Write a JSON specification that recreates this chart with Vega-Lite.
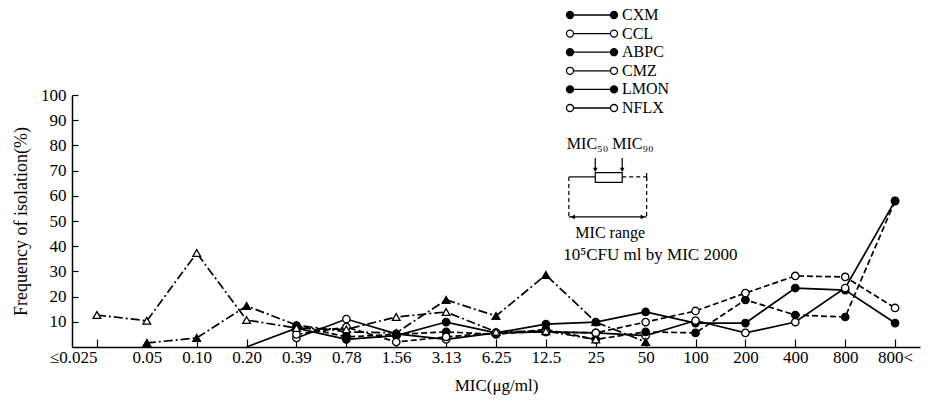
{
  "$schema": "https://vega.github.io/schema/vega-lite/v6.json",
  "autosize": {"type": "none"},
  "width": 848,
  "height": 252,
  "padding": {"left": 72, "top": 95, "right": 9, "bottom": 53},
  "background": "white",
  "config": {
    "view": {"stroke": null},
    "font": "Liberation Serif",
    "axis": {"domainColor": "black", "tickColor": "black", "labelColor": "black", "titleColor": "black", "grid": false, "labelFont": "Liberation Serif", "titleFont": "Liberation Serif", "titleFontWeight": "normal", "domainWidth": 1.5, "tickWidth": 1.2},
    "axisY": {"labelOverlap": false, "labelBound": false, "labelFlush": false},
    "axisQuantitative": {"labelOverlap": false}
  },
  "datasets": {
    "mic": [
      {"mic": "0.20", "drug": "CXM", "pct": 0},
      {"mic": "0.39", "drug": "CXM", "pct": 7.5},
      {"mic": "0.78", "drug": "CXM", "pct": 3},
      {"mic": "1.56", "drug": "CXM", "pct": 4.5},
      {"mic": "3.13", "drug": "CXM", "pct": 9.9},
      {"mic": "6.25", "drug": "CXM", "pct": 5.6},
      {"mic": "12.5", "drug": "CXM", "pct": 9.1},
      {"mic": "25", "drug": "CXM", "pct": 9.9},
      {"mic": "50", "drug": "CXM", "pct": 13.9},
      {"mic": "100", "drug": "CXM", "pct": 9.5},
      {"mic": "200", "drug": "CXM", "pct": 9.5},
      {"mic": "400", "drug": "CXM", "pct": 23.4},
      {"mic": "800", "drug": "CXM", "pct": 22.6},
      {"mic": "800<", "drug": "CXM", "pct": 9.5},
      {"mic": "0.39", "drug": "CCL", "pct": 3.6},
      {"mic": "0.78", "drug": "CCL", "pct": 11.1},
      {"mic": "1.56", "drug": "CCL", "pct": 5.2},
      {"mic": "3.13", "drug": "CCL", "pct": 3},
      {"mic": "6.25", "drug": "CCL", "pct": 5.6},
      {"mic": "12.5", "drug": "CCL", "pct": 6},
      {"mic": "25", "drug": "CCL", "pct": 5.6},
      {"mic": "50", "drug": "CCL", "pct": 4.5},
      {"mic": "100", "drug": "CCL", "pct": 10.5},
      {"mic": "200", "drug": "CCL", "pct": 5.6},
      {"mic": "400", "drug": "CCL", "pct": 9.9},
      {"mic": "800", "drug": "CCL", "pct": 23.4},
      {"mic": "800<", "drug": "CCL", "pct": 58},
      {"mic": "0.39", "drug": "ABPC", "pct": 8.5},
      {"mic": "0.78", "drug": "ABPC", "pct": 4},
      {"mic": "1.56", "drug": "ABPC", "pct": 5},
      {"mic": "3.13", "drug": "ABPC", "pct": 6},
      {"mic": "6.25", "drug": "ABPC", "pct": 5},
      {"mic": "12.5", "drug": "ABPC", "pct": 7},
      {"mic": "25", "drug": "ABPC", "pct": 3},
      {"mic": "50", "drug": "ABPC", "pct": 6},
      {"mic": "100", "drug": "ABPC", "pct": 5.6},
      {"mic": "200", "drug": "ABPC", "pct": 18.7},
      {"mic": "400", "drug": "ABPC", "pct": 12.7},
      {"mic": "800", "drug": "ABPC", "pct": 11.9},
      {"mic": "800<", "drug": "ABPC", "pct": 57.9},
      {"mic": "0.39", "drug": "CMZ", "pct": 5},
      {"mic": "0.78", "drug": "CMZ", "pct": 7.9},
      {"mic": "1.56", "drug": "CMZ", "pct": 2},
      {"mic": "3.13", "drug": "CMZ", "pct": 4},
      {"mic": "6.25", "drug": "CMZ", "pct": 5.6},
      {"mic": "12.5", "drug": "CMZ", "pct": 6},
      {"mic": "25", "drug": "CMZ", "pct": 5.6},
      {"mic": "50", "drug": "CMZ", "pct": 9.9},
      {"mic": "100", "drug": "CMZ", "pct": 14.3},
      {"mic": "200", "drug": "CMZ", "pct": 21.4},
      {"mic": "400", "drug": "CMZ", "pct": 28.2},
      {"mic": "800", "drug": "CMZ", "pct": 27.8},
      {"mic": "800<", "drug": "CMZ", "pct": 15.5},
      {"mic": "0.05", "drug": "LMON", "pct": 1.6},
      {"mic": "0.10", "drug": "LMON", "pct": 3.6},
      {"mic": "0.20", "drug": "LMON", "pct": 16.3},
      {"mic": "0.39", "drug": "LMON", "pct": 8.7},
      {"mic": "0.78", "drug": "LMON", "pct": 6},
      {"mic": "1.56", "drug": "LMON", "pct": 5.6},
      {"mic": "3.13", "drug": "LMON", "pct": 18.7},
      {"mic": "6.25", "drug": "LMON", "pct": 12.3},
      {"mic": "12.5", "drug": "LMON", "pct": 28.6},
      {"mic": "25", "drug": "LMON", "pct": 9.9},
      {"mic": "50", "drug": "LMON", "pct": 2},
      {"mic": "≤0.025", "drug": "NFLX", "pct": 12.7},
      {"mic": "0.05", "drug": "NFLX", "pct": 10.4},
      {"mic": "0.10", "drug": "NFLX", "pct": 37.3},
      {"mic": "0.20", "drug": "NFLX", "pct": 10.7},
      {"mic": "0.39", "drug": "NFLX", "pct": 7.5},
      {"mic": "0.78", "drug": "NFLX", "pct": 7},
      {"mic": "1.56", "drug": "NFLX", "pct": 11.9},
      {"mic": "3.13", "drug": "NFLX", "pct": 13.9},
      {"mic": "6.25", "drug": "NFLX", "pct": 6},
      {"mic": "12.5", "drug": "NFLX", "pct": 6.3},
      {"mic": "25", "drug": "NFLX", "pct": 3}
    ],
    "segments": [
      {"part": "range-left", "style": "solid", "u": 9.96, "u2": 10.49, "v": 67.5, "v2": 67.5},
      {"part": "range-right", "style": "dashed", "u": 11.03, "u2": 11.52, "v": 67.5, "v2": 67.5},
      {"part": "left-drop", "style": "dashed", "u": 9.96, "u2": 9.96, "v": 67.5, "v2": 51.6},
      {"part": "right-drop", "style": "dashed", "u": 11.52, "u2": 11.52, "v": 67.5, "v2": 51.6},
      {"part": "range-arrow", "style": "solid", "u": 9.96, "u2": 11.52, "v": 51.6, "v2": 51.6},
      {"part": "end-tick", "style": "solid", "u": 11.52, "u2": 11.52, "v": 66, "v2": 69},
      {"part": "mic50-arrow", "style": "solid", "u": 10.49, "u2": 10.49, "v": 75, "v2": 70},
      {"part": "mic90-arrow", "style": "solid", "u": 11.03, "u2": 11.03, "v": 75, "v2": 70}
    ],
    "boxes": [
      {"part": "mic-box", "u": 10.49, "u2": 11.03, "v": 65.3, "v2": 69.2}
    ],
    "heads": [
      {"part": "mic50-head", "dir": "down", "u": 10.49, "v": 70.3},
      {"part": "mic90-head", "dir": "down", "u": 11.03, "v": 70.3},
      {"part": "range-left-head", "dir": "left", "u": 10.04, "v": 51.6},
      {"part": "range-right-head", "dir": "right", "u": 11.44, "v": 51.6}
    ],
    "notes": [
      {"label": "MIC₅₀ MIC₉₀", "u": 10.79, "v": 80.6, "anchor": "center"},
      {"label": "MIC range", "u": 10.79, "v": 45.2, "anchor": "center"},
      {"label": "10⁵CFU ml by MIC 2000", "u": 9.85, "v": 36.5, "anchor": "left"}
    ]
  },
  "resolve": {"scale": {"x": "independent", "y": "independent"}, "axis": {"x": "independent", "y": "independent"}},
  "layer": [
    {
      "data": {"name": "mic"},
      "encoding": {
        "x": {"field": "mic", "type": "nominal", "sort": ["≤0.025","0.05","0.10","0.20","0.39","0.78","1.56","3.13","6.25","12.5","25","50","100","200","400","800","800<"],
          "scale": {"type": "point", "padding": 0.5, "domain": ["≤0.025","0.05","0.10","0.20","0.39","0.78","1.56","3.13","6.25","12.5","25","50","100","200","400","800","800<"]},
          "axis": {"title": "MIC(μg/ml)", "labelAngle": 0, "tickSize": -8, "labelPadding": 10, "labelFontSize": 17, "titleFontSize": 17, "titlePadding": 12, "labelOverlap": false,
            "labelAlign": {"condition": {"test": "datum.value == '≤0.025'", "value": "right"}, "value": "center"}}},
        "y": {"field": "pct", "type": "quantitative", "scale": {"domain": [0, 100], "nice": false},
          "axis": {"title": "Frequency of isolation(%)", "values": [10,20,30,40,50,60,70,80,90,100], "tickSize": -6, "labelPadding": 12, "labelFontSize": 17, "titleFontSize": 18, "titlePadding": 10, "labelOverlap": false, "labelBound": false, "labelFlush": false}}
      },
      "layer": [
        {
          "transform": [{"filter": "datum.drug == 'CXM' || datum.drug == 'CCL'"}],
          "mark": {"type": "line", "color": "black", "strokeWidth": 1.7},
          "encoding": {"detail": {"field": "drug", "type": "nominal"}, "order": {"value": null}}
        },
        {
          "transform": [{"filter": "datum.drug == 'ABPC' || datum.drug == 'CMZ'"}],
          "mark": {"type": "line", "color": "black", "strokeWidth": 1.7, "strokeDash": [6, 3]},
          "encoding": {"detail": {"field": "drug", "type": "nominal"}, "order": {"value": null}}
        },
        {
          "transform": [{"filter": "datum.drug == 'LMON' || datum.drug == 'NFLX'"}],
          "mark": {"type": "line", "color": "black", "strokeWidth": 1.7, "strokeDash": [9, 3, 2, 3]},
          "encoding": {"detail": {"field": "drug", "type": "nominal"}, "order": {"value": null}}
        },
        {
          "transform": [{"filter": "datum.pct > 0 && datum.drug != 'LMON' && datum.drug != 'NFLX'"}],
          "mark": {"type": "point", "filled": true, "stroke": "black", "strokeWidth": 1.3, "opacity": 1, "size": 55},
          "encoding": {
            "fill": {"field": "drug", "type": "nominal", "scale": {"domain": ["CXM","CCL","ABPC","CMZ","LMON","NFLX"], "range": ["black","white","black","white","black","white"]},
              "legend": {"orient": "none", "legendX": 512, "legendY": -88, "title": null, "labelFont": "Liberation Serif", "labelFontSize": 16, "labelColor": "black", "labelOffset": 22, "rowPadding": 2.6, "symbolSize": 121, "symbolStrokeColor": "black", "symbolStrokeWidth": 1.3, "symbolOpacity": 1,
                "symbolType": "M-3.36,0L3.36,0M-4.64,0A0.64,0.64 0 1,0 -3.36,0A0.64,0.64 0 1,0 -4.64,0ZM3.36,0A0.64,0.64 0 1,0 4.64,0A0.64,0.64 0 1,0 3.36,0Z"}}
          }
        },
        {
          "transform": [{"filter": "datum.pct > 0 && (datum.drug == 'LMON' || datum.drug == 'NFLX')"}],
          "mark": {"type": "point", "shape": "triangle-up", "filled": true, "stroke": "black", "strokeWidth": 1.3, "opacity": 1, "size": 60},
          "encoding": {
            "fill": {"field": "drug", "type": "nominal"}
          }
        }
      ]
    },
    {
      "layer": [
        {
          "data": {"name": "segments"},
          "transform": [{"filter": "datum.style == 'solid'"}],
          "mark": {"type": "rule", "color": "black", "strokeWidth": 1.2},
          "encoding": {
            "x": {"field": "u", "type": "quantitative", "scale": {"domain": [0, 17], "nice": false, "zero": false}, "axis": null},
            "x2": {"field": "u2"},
            "y": {"field": "v", "type": "quantitative", "scale": {"domain": [0, 100], "nice": false}, "axis": null},
            "y2": {"field": "v2"}
          }
        },
        {
          "data": {"name": "segments"},
          "transform": [{"filter": "datum.style == 'dashed'"}],
          "mark": {"type": "rule", "color": "black", "strokeWidth": 1.2, "strokeDash": [4, 3]},
          "encoding": {
            "x": {"field": "u", "type": "quantitative"},
            "x2": {"field": "u2"},
            "y": {"field": "v", "type": "quantitative"},
            "y2": {"field": "v2"}
          }
        },
        {
          "data": {"name": "boxes"},
          "mark": {"type": "rect", "fill": null, "stroke": "black", "strokeWidth": 1.2},
          "encoding": {
            "x": {"field": "u", "type": "quantitative"},
            "x2": {"field": "u2"},
            "y": {"field": "v", "type": "quantitative"},
            "y2": {"field": "v2"}
          }
        },
        {
          "data": {"name": "heads"},
          "mark": {"type": "point", "filled": true, "color": "black", "size": 22, "opacity": 1},
          "encoding": {
            "x": {"field": "u", "type": "quantitative"},
            "y": {"field": "v", "type": "quantitative"},
            "shape": {"field": "dir", "type": "nominal", "scale": {"domain": ["down", "left", "right"], "range": ["triangle-down", "triangle-left", "triangle-right"]}, "legend": null}
          }
        },
        {
          "data": {"name": "notes"},
          "transform": [{"filter": "datum.anchor == 'center'"}],
          "mark": {"type": "text", "font": "Liberation Serif", "fontSize": 16, "color": "black", "align": "center", "baseline": "middle"},
          "encoding": {
            "x": {"field": "u", "type": "quantitative"},
            "y": {"field": "v", "type": "quantitative"},
            "text": {"field": "label"}
          }
        },
        {
          "data": {"name": "notes"},
          "transform": [{"filter": "datum.anchor == 'left'"}],
          "mark": {"type": "text", "font": "Liberation Serif", "fontSize": 17, "color": "black", "align": "left", "baseline": "middle"},
          "encoding": {
            "x": {"field": "u", "type": "quantitative"},
            "y": {"field": "v", "type": "quantitative"},
            "text": {"field": "label"}
          }
        }
      ]
    }
  ]
}
